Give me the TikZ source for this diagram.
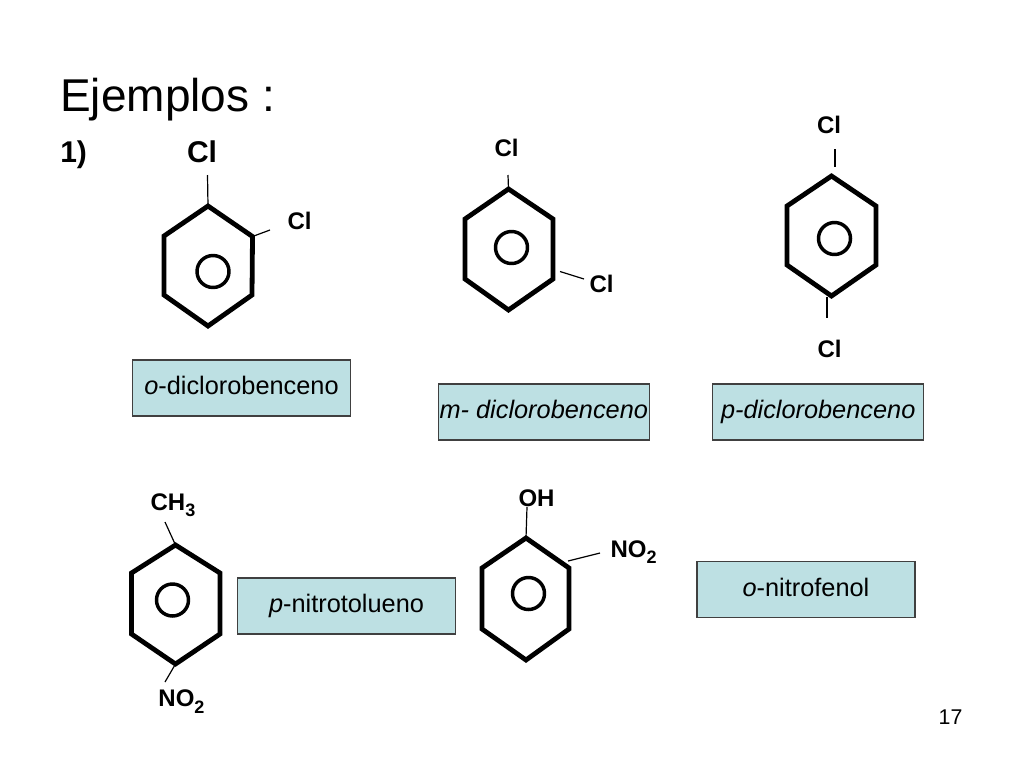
\documentclass[tikz,border=0pt]{standalone}
\usepackage{fontspec}
\setmainfont{Liberation Sans}
\usetikzlibrary{positioning}
\definecolor{cajaazul}{RGB}{189,224,227}
\newcommand{\subind}[1]{\raisebox{-5pt}{\fontsize{13.5}{14}\selectfont\bfseries #1}}

\begin{document}
\begin{tikzpicture}[x=0.75pt, y=-0.75pt,
    anillo/.style={line width=3.6pt, line join=miter},
    circulo/.style={line width=2.6pt},
    enlace/.style={line width=0.9pt},
    grupo/.style={font=\bfseries\fontsize{18}{20}\selectfont, inner sep=0pt, anchor=base},
    nombre/.style={draw=black!75, line width=0.8pt, fill=cajaazul, minimum width=162pt, minimum height=42pt, inner sep=0pt, text height=13.5pt, text depth=4pt, font=\fontsize{19}{21}\selectfont}]

    \useasboundingbox (0,0) rectangle (1024,768);

    \node[anchor=base west, inner sep=0pt, font=\fontsize{34.5}{38}\selectfont] (titulo) at (60,111) {Ejemplos :};
    \node[anchor=base west, inner sep=0pt, font=\bfseries\fontsize{22.5}{24}\selectfont] (num) at (60,162) {1)};

    \draw[anillo] (208,206) coordinate (o1) -- (252.5,236.5) coordinate (o2) -- (252,295) -- (208,326) -- (164,295) -- (164,236) -- cycle;
    \draw[circulo] (213,271.5) circle[radius=12pt];
    \node[grupo, font=\bfseries\fontsize{22.5}{24}\selectfont] (clo1) at (202,162) {Cl};
    \node[grupo] (clo2) at (299.5,229) {Cl};
    \coordinate (o1e) at (207.5,175);
    \coordinate (o2e) at (270,230);
    \draw[enlace] (o1) -- (o1e);
    \draw[enlace] (o2) -- (o2e);
    \node[nombre, minimum width=163pt] (orto) at (241.5,388) {\textit{o}-diclorobenceno};

    \draw[anillo] (508.5,189) coordinate (m1) -- (553,219) -- (553,279) coordinate (m3) -- (508.5,310) -- (465,279) -- (465,219) -- cycle;
    \draw[circulo] (511.5,247.5) circle[radius=12pt];
    \node[grupo] (clm1) at (506.5,156) {Cl};
    \node[grupo] (clm3) at (601.5,292.5) {Cl};
    \coordinate (m1e) at (508,175);
    \coordinate (m3s) at (560,271.5);
    \coordinate (m3e) at (584,279);
    \draw[enlace] (m1) -- (m1e);
    \draw[enlace] (m3s) -- (m3e);
    \node[nombre, minimum width=158pt] (meta) at (543.8,412) {\textit{m- diclorobenceno}};

    \draw[anillo] (831.5,176) coordinate (p1) -- (876,206) -- (876,265) -- (831.5,296) coordinate (p4) -- (787,265) -- (787,206) -- cycle;
    \draw[circulo] (834.5,238.5) circle[radius=12pt];
    \node[grupo] (clp1) at (829,133) {Cl};
    \node[grupo] (clp4) at (829.5,357) {Cl};
    \coordinate (p1s) at (835,149);
    \coordinate (p1e) at (835,167);
    \coordinate (p4s) at (827,297);
    \coordinate (p4e) at (827,318);
    \draw[enlace] (p1s) -- (p1e);
    \draw[enlace] (p4s) -- (p4e);
    \node[nombre, minimum width=158pt, right=47pt of meta] (para) {\textit{p-diclorobenceno}};

    \draw[anillo] (175.5,545) coordinate (t1) -- (220,573) -- (220,634) -- (175.5,664) coordinate (t4) -- (131.5,634) -- (131.5,573) -- cycle;
    \draw[circulo] (172.5,600) circle[radius=12pt];
    \node[grupo] (ch3) at (173,510) {CH\subind{3}};
    \node[grupo] (no2t) at (181.5,706.5) {NO\subind{2}};
    \coordinate (t1e) at (165,522);
    \coordinate (t4e) at (165,682);
    \draw[enlace] (t1) -- (t1e);
    \draw[enlace] (t4) -- (t4e);
    \node[nombre, minimum width=163pt] (tolueno) at (346.5,606) {\textit{p}-nitrotolueno};

    \draw[anillo] (526,538) coordinate (f1) -- (569,568) -- (569,629) -- (526,660) -- (482,629) -- (482,568) -- cycle;
    \draw[circulo] (528.5,593.5) circle[radius=12pt];
    \node[grupo] (oh) at (536.5,506) {OH};
    \node[grupo] (no2f) at (633.5,557) {NO\subind{2}};
    \coordinate (f1e) at (527,507);
    \coordinate (f2s) at (568,561);
    \coordinate (f2e) at (600,553);
    \draw[enlace] (f1) -- (f1e);
    \draw[enlace] (f2s) -- (f2e);
    \node[nombre, minimum width=163.5pt] (fenol) at (806,589.7) {\textit{o}-nitrofenol};

    \node[anchor=base, inner sep=0pt, font=\fontsize{16}{18}\selectfont] (pagina) at (950.5,724) {17};
\end{tikzpicture}
\end{document}
